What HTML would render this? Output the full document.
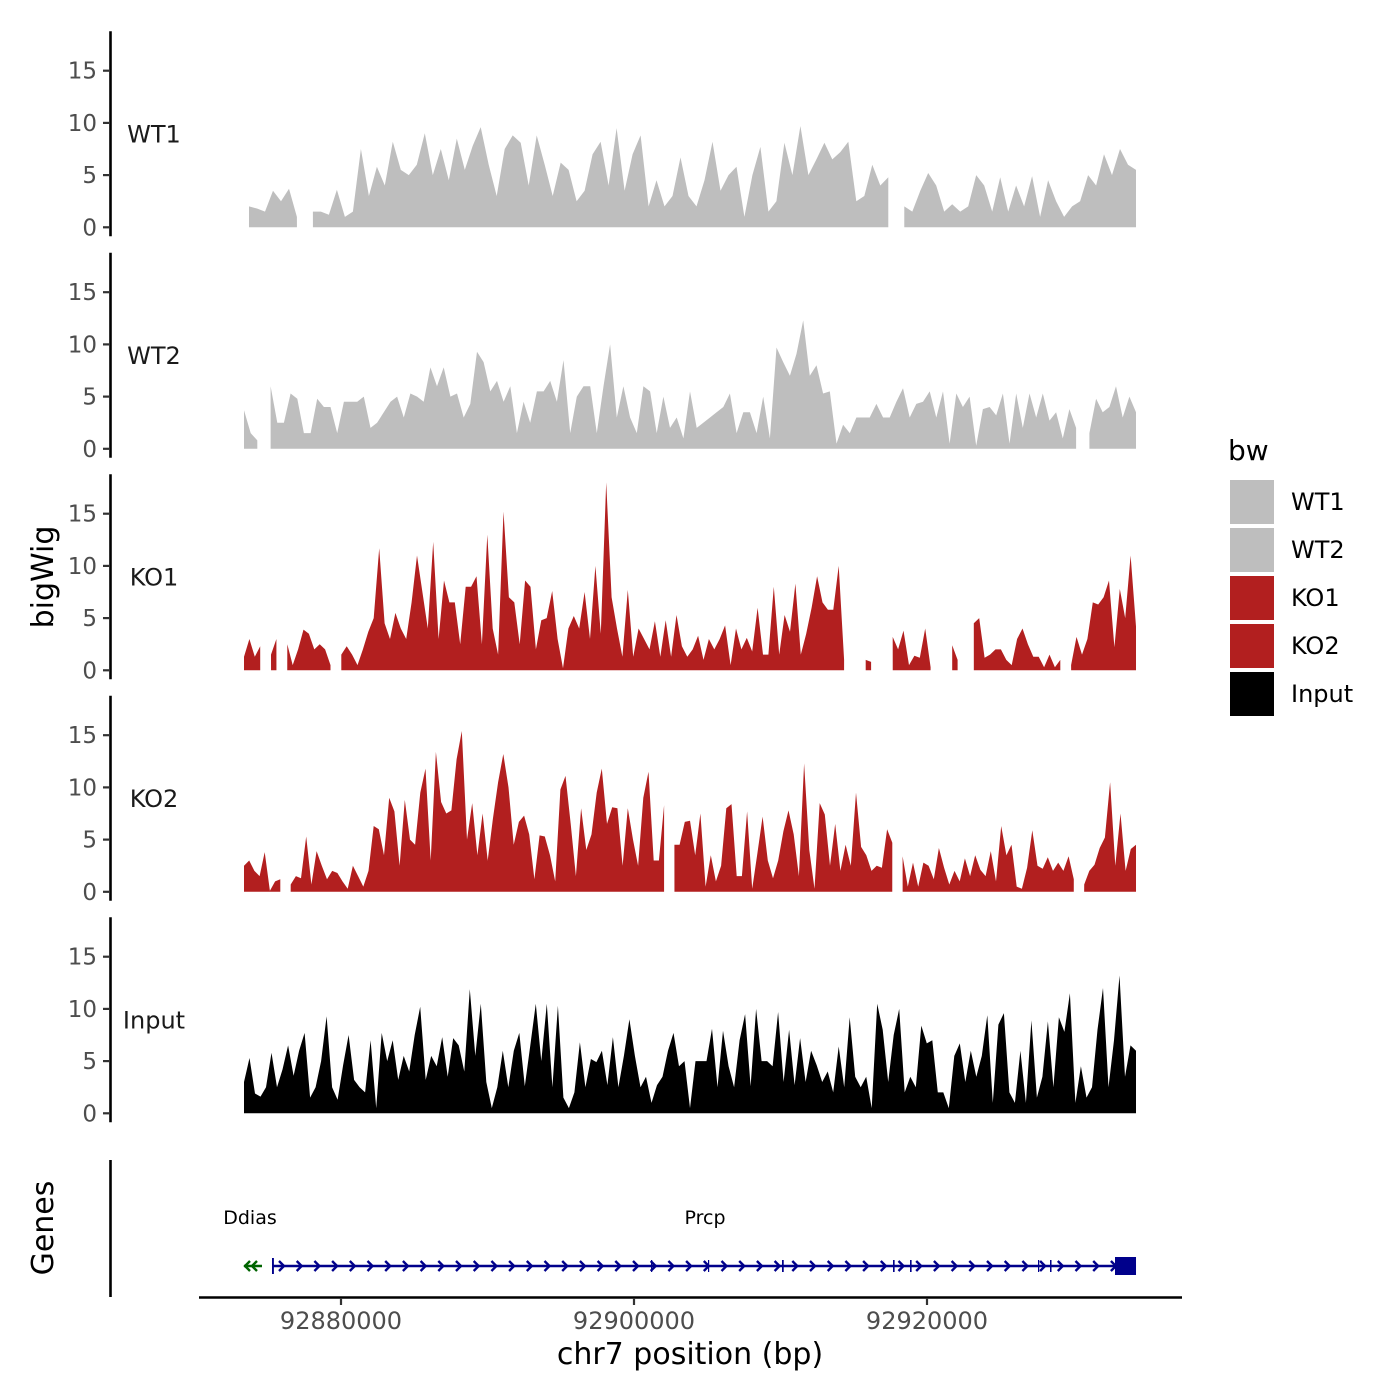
<!DOCTYPE html>
<html><head><meta charset="utf-8"><style>
html,body{margin:0;padding:0;background:#fff}
svg{display:block}
text{font-family:"DejaVu Sans","Liberation Sans",sans-serif}
</style></head><body>
<svg id="chart" width="1400" height="1400" viewBox="0 0 1400 1400" xmlns="http://www.w3.org/2000/svg">
<rect width="1400" height="1400" fill="#fff"/>
<g id="tracks"></g>
<g id="genes"></g>
<g id="xaxis"></g>
<text transform="translate(53,577) rotate(-90)" text-anchor="middle" font-size="30" fill="#000">bigWig</text>
<text transform="translate(53,1228) rotate(-90)" text-anchor="middle" font-size="30" fill="#000">Genes</text>
<text x="690" y="1364" text-anchor="middle" font-size="30" fill="#000">chr7 position (bp)</text>
<g id="legend">
<text x="1228" y="460" font-size="28" fill="#000">bw</text>
</g>
</svg>
<script>
const trackNames = ["WT1","WT2","KO1","KO2","Input"];
const trackColors = ["#bebebe","#bebebe","#b21f1f","#b21f1f","#000000"];
const trackStarts = [92873720, 92873379, 92873379, 92873379, 92873379];
const trackEnd = 92934267;
const yTicks = [0,5,10,15];
const xTicks = [92880000,92900000,92920000];
const xTickLabels = ["92880000","92900000","92920000"];

const wt1 = [2,1.8,1.5,3.5,2.5,3.7,1,null,1.5,1.5,1.2,3.6,1,1.5,7.5,3,5.8,4,8.2,5.5,5,6,9,5,7.5,4.5,8.5,5.5,7.8,9.6,6,3,7.5,8.8,8.1,4,8.8,6,3,6.2,5.5,2.5,3.5,7,8.2,4,9.5,3.5,7,8.8,2,4.5,2,3,6.7,3,2,4.5,8.2,3.5,5,5.8,1,5,7.7,1.5,2.5,8.1,5,9.7,5,6.5,8.1,6.5,7.2,8.2,2.5,3,6,4,4.8,null,2,1.5,3.5,5.2,4,1.5,2.2,1.5,2,5,4,1.5,4.8,1.5,4,2,4.9,1,4.5,2.5,1,2,2.5,5,4,7,5,7.5,6,5.5];
const wt2 = [3.7,1.5,0.8,null,6,2.5,2.5,5.3,4.8,1.5,1.5,4.8,4,4,1.5,4.5,4.5,4.5,5,2,2.5,3.5,4.5,5,3,5.3,5,4.5,7.8,6,7.8,5,5.3,3,4.3,9.3,8.3,5.5,6.5,4.5,6,1.5,4.5,2.5,5.5,5.5,6.5,4.5,8.5,1.5,5,6,6,1.5,6,10,3,6,3,1.5,6,5.5,1.5,5,2,3,1,5.5,2,2.5,3,3.5,4,5.3,1.5,3.5,3.5,1.5,5,1,9.7,8.3,7,9.1,12.3,7,8,5.3,5.5,0.5,2.3,1.5,3,3,3,4.3,3,3,4.5,5.8,3,4.3,4.5,5.5,3,5.5,0.5,5.3,4,5,0.3,3.8,4,3.2,5.3,0.5,5.3,2,5.3,3,5.3,2.7,3.5,1,3.8,2,null,1.5,4.8,3.5,4,6,3,5,3.5];
const ko1 = [1.3,3,1.3,2.3,null,1.5,3,null,2.5,0.5,2,3.9,3.5,2,2.5,2,0.5,null,1.5,2.3,1.5,0.5,2,3.7,5,11.7,4.5,3,5.5,4,3,6.5,11,7.5,4,12.3,3,8.6,6.5,6.5,2.5,8,8,9,2.5,13,4,1.5,15.2,7,6.5,2.5,8.6,8,2,4.8,5,7.6,3,0.2,4,5.2,4,7.5,3,10,3.5,18,7,4,1.3,7.7,1.3,4,3,2,4.7,1.3,4.8,1.3,5.3,2.3,1.3,2,3.3,1,3,2,3,4.3,0.5,4,2,3.1,1.8,6,1.5,1.5,8,1.5,5.3,3.7,8.3,1.5,3.5,6,9,6.5,5.8,5.8,10,1,null,2,null,1,0.8,null,1.3,null,3.2,2,3.8,0.5,1.4,1.2,4,0.3,null,1.5,null,2.4,1,null,null,4.5,5,1.2,1.5,2,2,1,0.5,3,4,2.5,1.3,1.3,0.3,1.5,0.3,1,null,0.5,3.2,1.5,3,6.5,6.3,7,8.6,2.2,7.8,5,11,4.2];
const ko2 = [2.5,3,2,1.5,3.8,0.1,1,1.2,null,0.7,1.5,1.3,5.3,0.7,3.9,2.5,1.2,2,1.8,1,0.3,2.5,1.5,0.5,2,6.3,6,3.5,9,7.7,2.5,8.8,5,4.5,9.5,11.8,3,13.4,8.6,7.5,7.8,12.7,15.4,5,8.5,3.5,7.5,3,7,10.5,13.2,10,4.5,6.7,7.3,5.5,1.2,5.4,5.3,3.5,1,9.8,11.1,6.5,1.5,8,4,5.5,9.5,11.8,6.5,8.1,8,2.5,8,5,2.5,9,11.5,3,3,8.3,null,4.5,4.5,6.7,6.8,3.5,7.5,0.5,3.5,1,2.5,8,8.4,1.5,1.5,7.7,0.3,3.7,7.2,3,1.3,3,5.8,7.8,5.5,1.5,12.3,4,0.3,8.5,7.4,2.5,6.5,2,4.5,2.5,9.5,4.3,3.5,2,2.5,2.3,6,4.7,null,3.4,0.5,2.8,0.5,2.8,2.5,1.2,4.2,2.3,0.7,2,1,3.2,1.5,3.5,2.1,1.5,3.9,1,6.3,3.5,4.5,0.5,0.3,2.3,5.9,2.5,2.2,3.3,2,2.8,2,3.4,1.2,null,0.7,2,2.6,4.2,5.2,10.5,2.5,7.5,2,4.1,4.5];
const input = [3,5.3,1.9,1.6,2.5,5.8,2.5,4.2,6.5,3.6,6,7.7,1.5,2.5,5,9.3,2.5,1.3,4.6,7.5,3.2,2.5,2,7,0.5,7.7,5,7,3.2,5.5,4,7.5,10.2,3.2,5.5,4.5,7.3,3.5,7.2,6.5,4,11.9,5.5,10.5,3,0.5,2.5,6,2.5,6,7.7,2.6,6.5,10.5,5,10.5,2.5,10.3,1.5,0.5,2,6.8,2.5,5.2,4.9,6,2.7,7.3,2.5,5.5,9,5.5,2.5,3.5,1,2.7,3.5,6,7.7,4.5,5,0.5,5,5,5,8.1,2.5,7.9,4.5,2.5,7,9.5,2.6,10,5,5,4.5,9.7,3,8,2.7,7.2,3,6,4.6,3,4,2,6.4,2.5,9.2,3.5,2.5,3.5,0.5,10.5,8,3,7.5,10,2,3.5,2.5,8.4,6.7,7,2,2,0.5,5.5,6.7,3,6,3.5,5.5,9.4,1,8.5,9.6,2,1,6,1,8.9,1.5,3.5,8.8,2.5,9.2,7.8,11.5,1,4.5,1.5,2.5,8,12,2.5,7,13.2,3.5,6.5,6];
const trackValues = [wt1, wt2, ko1, ko2, input];

const geneNames = ["Ddias","Prcp"];
const geneStarts = [92873379, 92875290];
const geneEnds = [92874607, 92934267];
const geneStrands = [-1, 1];
const exonStarts = [92875290, 92901161, 92905051, 92910103, 92917680, 92918840, 92927577, 92928396, 92932833];
const exonEnds   = [92875420, 92901240, 92905120, 92910220, 92917790, 92918950, 92927660, 92928500, 92934267];

const NS = "http://www.w3.org/2000/svg";
function mk(tag, attrs, parent){const e=document.createElementNS(NS,tag);for(const k in attrs)e.setAttribute(k,attrs[k]);parent.appendChild(e);return e;}
const xScale = bp => 341 + (bp - 92880000) / 20000 * 293;
const pxPerUnit = 10.44;
const panelBase = k => 227.3 + k * 221.5;
const yScale = (k, v) => panelBase(k) - v * pxPerUnit;

const tracks = document.getElementById('tracks');
trackNames.forEach((name, k) => {
  const g = mk('g', {}, tracks);
  
  
  const base = panelBase(k);
  const ax = mk('line', {x1:110.5, x2:110.5, y1:base-196, y2:base+9, stroke:'#000', 'stroke-width':2.6}, g);
  
  
  yTicks.forEach(t => {
    const y = yScale(k, t);
    const tk = mk('line', {x1:103, x2:110, y1:y, y2:y, stroke:'#333', 'stroke-width':2.2}, g);
    
    
    const tl = mk('text', {x:97, y:y+8, 'text-anchor':'end', 'font-size':23, fill:'#4d4d4d'}, g);
    tl.textContent = t;
    
    
  });
  const lab = mk('text', {x:154, y:base-85, 'text-anchor':'middle', 'font-size':24, fill:'#1a1a1a'}, g);
  lab.textContent = name;
  
  
  const vals = trackValues[k];
  const n = vals.length;
  const step = (trackEnd - trackStarts[k]) / (n - 1);
  let d = '', seg = [];
  const flush = () => {
    if (seg.length) {
      const x0 = seg[0][0], x1 = seg[seg.length-1][0];
      d += 'M' + x0 + ',' + base + seg.map(p => 'L' + p[0].toFixed(1) + ',' + p[1].toFixed(1)).join('') + 'L' + x1 + ',' + base + 'Z';
    }
    seg = [];
  };
  vals.forEach((v, i) => {
    const x = xScale(trackStarts[k] + i * step);
    if (v === null) { flush(); return; }
    seg.push([x, yScale(k, v)]);
  });
  flush();
  const area = mk('path', {d:d, fill:trackColors[k]}, g);
  
  
});

// genes
const genes = document.getElementById('genes');
const gax = mk('line', {x1:110.5, x2:110.5, y1:1160, y2:1297, stroke:'#000', 'stroke-width':2.6}, genes);


const gy = 1266;
geneNames.forEach((nm, i) => {
  const col = geneStrands[i] < 0 ? '#006400' : '#00008b';
  const x0 = xScale(geneStarts[i]), x1 = xScale(geneEnds[i]);
  const g = mk('g', {}, genes);
  
  
  mk('line', {x1:x0, x2:x1, y1:gy, y2:gy, stroke:col, 'stroke-width':2.5}, g);
  const dir = geneStrands[i];
  const spacing = 17.7;
  for (let x = x0 + 10; x < x1 - 4; x += spacing) {
    mk('polyline', {points: dir > 0 ? `${x-3},${gy-5} ${x+2},${gy} ${x-3},${gy+5}` : `${x+3},${gy-5} ${x-2},${gy} ${x+3},${gy+5}`, fill:'none', stroke:col, 'stroke-width':2.4}, g);
  }
  if (dir < 0) mk('polyline', {points:`${x0+6},${gy-5} ${x0+1},${gy} ${x0+6},${gy+5}`, fill:'none', stroke:col, 'stroke-width':2.4}, g);
  const t = mk('text', {x: nm === 'Ddias' ? 250 : 705, y:1224, 'text-anchor':'middle', 'font-size':19, fill:'#000'}, g);
  t.textContent = nm;
  
  
});
exonStarts.forEach((s, i) => {
  const x0 = xScale(s), x1 = Math.max(xScale(exonEnds[i]), x0 + 1.2);
  const big = (x1 - x0) > 10;
  const h = big ? 18 : (i === 0 ? 16 : 12);
  const r = mk('rect', {x:x0, y:gy - h/2, width:x1 - x0, height:h, fill:'#00008b'}, genes);
  
  
});

// x axis
const xa = document.getElementById('xaxis');
const xl = mk('line', {x1:199, x2:1182, y1:1297.5, y2:1297.5, stroke:'#000', 'stroke-width':2.6}, xa);


xTicks.forEach((t, i) => {
  const x = xScale(t);
  const tk = mk('line', {x1:x, x2:x, y1:1298, y2:1305, stroke:'#333', 'stroke-width':2.2}, xa);
  
  
  const tl = mk('text', {x:x, y:1329, 'text-anchor':'middle', 'font-size':24, fill:'#4d4d4d'}, xa);
  tl.textContent = xTickLabels[i];
  
  
});

// legend
const lg = document.getElementById('legend');
trackNames.forEach((nm, i) => {
  const y = 480 + i * 48;
  const r = mk('rect', {x:1230, y:y, width:44, height:44, fill:trackColors[i]}, lg);
  
  
  const t = mk('text', {x:1291, y:y + 30, 'font-size':24, fill:'#000'}, lg);
  t.textContent = nm;
  
  
});
</script>
</body></html>
